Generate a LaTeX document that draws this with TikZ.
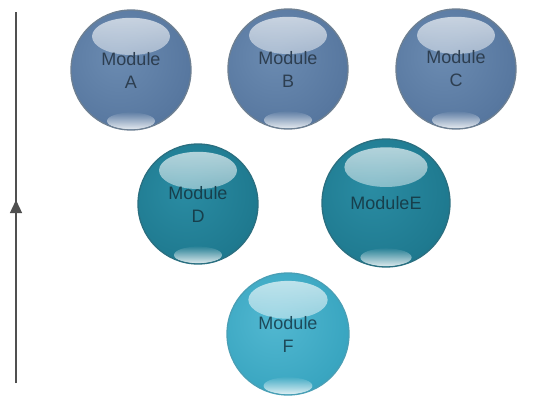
\documentclass[tikz,border=0pt]{standalone}
\usepackage{fontspec}
\setmainfont{Liberation Sans}
\usetikzlibrary{arrows.meta,fadings,calc}
\definecolor{blueL}{HTML}{6B8BB1}
\definecolor{blueM}{HTML}{5878A0}
\definecolor{blueD}{HTML}{44648B}
\definecolor{blueRim}{HTML}{6E8092}
\definecolor{blueText}{HTML}{2D3E50}
\definecolor{tealL}{HTML}{2A8CA3}
\definecolor{tealM}{HTML}{1F7A90}
\definecolor{tealD}{HTML}{15657A}
\definecolor{tealRim}{HTML}{2B6F80}
\definecolor{tealText}{HTML}{173F4C}
\definecolor{cyanL}{HTML}{52B8D1}
\definecolor{cyanM}{HTML}{3AA6C1}
\definecolor{cyanD}{HTML}{2B91AC}
\definecolor{cyanRim}{HTML}{4A9FB5}
\definecolor{cyanText}{HTML}{1D4A5A}
\definecolor{axisGray}{HTML}{505050}
\pgfdeclareradialshading{sphblue}{\pgfpoint{-6bp}{6bp}}{color(0bp)=(blueL); color(28bp)=(blueM); color(50bp)=(blueD); color(100bp)=(blueD)}
\pgfdeclareradialshading{sphteal}{\pgfpoint{-6bp}{6bp}}{color(0bp)=(tealL); color(28bp)=(tealM); color(50bp)=(tealD); color(100bp)=(tealD)}
\pgfdeclareradialshading{sphcyan}{\pgfpoint{-6bp}{6bp}}{color(0bp)=(cyanL); color(28bp)=(cyanM); color(50bp)=(cyanD); color(100bp)=(cyanD)}
\tikzfading[name=hltop, top color=transparent!30, bottom color=transparent!100]
\tikzfading[name=hlbot, top color=transparent!95, bottom color=transparent!15]
\newcommand\spherehl[1]{%
  \fill[white, path fading=hltop] ($(path picture bounding box.center)+(0,-0.56*#1)$) ellipse [x radius=0.65*#1, y radius=0.31*#1];
  \fill[white, path fading=hlbot] ($(path picture bounding box.center)+(0,0.85*#1)$) ellipse [x radius=0.4*#1, y radius=0.14*#1];
}
\tikzset{
  sph/.style={circle, inner sep=0pt, minimum size=2*#1, line width=1.3pt, align=center,
    font=\fontsize{18}{23}\selectfont, path picture={\spherehl{#1}}},
  blueball/.style={sph=60, shade, shading=sphblue, draw=blueRim, text=blueText},
  tealball/.style={sph=60, shade, shading=sphteal, draw=tealRim, text=tealText},
  cyanball/.style={sph=61, shade, shading=sphcyan, draw=cyanRim, text=cyanText},
  axisline/.style={draw=axisGray, line width=1.3pt},
}
\begin{document}
\begin{tikzpicture}[x=1pt, y=-1pt]
\useasboundingbox (0,0) rectangle (538,396);
\node[blueball] (A) at (131,70) {Module\\A};
\node[blueball] (B) at (288,69) {Module\\B};
\node[blueball] (C) at (456,69) {Module\\C};
\node[tealball] (D) at (198,204) {Module\\D};
\node[tealball, sph=64] (E) at (386,203) {ModuleE};
\node[cyanball] (F) at (288,334) {Module\\F};
\coordinate (ltop) at (16,12);
\coordinate (lbot) at (16,383);
\coordinate (lmid) at (16,200);
\draw[axisline] (lbot) -- (ltop);
\draw[axisline, fill=axisGray, -{Triangle[length=13pt,width=12pt]}] (lbot) -- (lmid);
\end{tikzpicture}
\end{document}
